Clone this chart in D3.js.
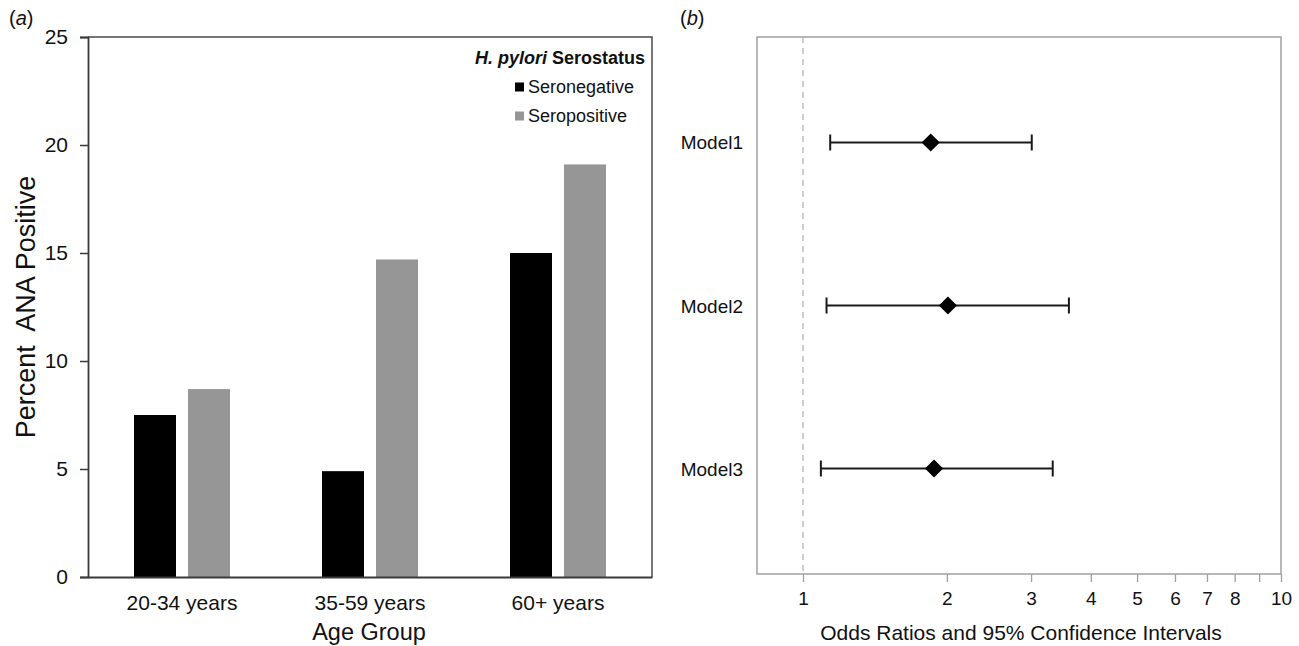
<!DOCTYPE html>
<html><head><meta charset="utf-8">
<script src="https://cdn.jsdelivr.net/npm/d3@7"></script>
<style>body{margin:0;background:#fff;} svg{display:block;font-family:"Liberation Sans",Arial,sans-serif;}</style>
</head><body>
<svg id="c" width="1299" height="646"></svg>
<script>
// Panel (a) data
const ageGroups = ["20-34 years", "35-59 years", "60+ years"];
const seriesNames = ["Seronegative", "Seropositive"];
const seronegative = [7.5, 4.9, 15.0];
const seropositive = [8.7, 14.7, 19.1];
const yTicksA = [0, 5, 10, 15, 20, 25];
// Panel (b) data
const models = ["Model1", "Model2", "Model3"];
const orEstimate = [1.85, 2.01, 1.88];
const orLower = [1.14, 1.12, 1.09];
const orUpper = [3.01, 3.60, 3.33];
const xTicksB = [1, 2, 3, 4, 5, 6, 7, 8, 9, 10];
const xTickLabelsB = ["1", "2", "3", "4", "5", "6", "7", "8", "", "10"];

const svg = d3.select("#c");
const FF = "Liberation Sans, Arial, sans-serif";
const colors = {Seronegative: "#000000", Seropositive: "#969696"};

// ---------- Panel (a) ----------
const A = {l: 88, r: 652, t: 37, b: 577};
const x0 = d3.scaleBand().domain(ageGroups).range([A.l, A.r]);
const y = d3.scaleLinear().domain([0, 25]).range([A.b, A.t]);
const barW = 42, gap = 12;

const gA = svg.append("g");
const data = ageGroups.map((g, i) => ({g, vals: [{s: "Seronegative", v: seronegative[i]}, {s: "Seropositive", v: seropositive[i]}]}));
const off = (x0.bandwidth() - (barW * 2 + gap)) / 2;
gA.selectAll("g.grp").data(data).join("g")
  .attr("transform", d => `translate(${x0(d.g) + off},0)`)
  .selectAll("rect").data(d => d.vals).join("rect")
  .attr("x", (d, i) => i * (barW + gap))
  .attr("width", barW)
  .attr("y", d => y(d.v))
  .attr("height", d => y(0) - y(d.v))
  .attr("fill", d => colors[d.s]);

gA.append("path").attr("d", `M${A.l},${A.t}H${A.r}V${A.b}`).attr("fill", "none").attr("stroke", "#4a4a4a").attr("stroke-width", 1.5);

const yAx = gA.append("g").attr("transform", `translate(${A.l},0)`)
  .call(d3.axisLeft(y).tickValues(yTicksA).tickSize(8).tickPadding(12));
yAx.select(".domain").attr("stroke", "#3a3a3a").attr("stroke-width", 1.8);
yAx.selectAll(".tick line").attr("stroke", "#3a3a3a").attr("stroke-width", 1.5);
yAx.selectAll("text").attr("font-size", 21).attr("fill", "#111").style("font-family", FF);

const xAx = gA.append("g").attr("transform", `translate(0,${A.b})`)
  .call(d3.axisBottom(x0).tickSize(0).tickPadding(18));
xAx.select(".domain").attr("stroke", "#3a3a3a").attr("stroke-width", 1.8);
xAx.selectAll("text").attr("font-size", 21).attr("fill", "#111").style("font-family", FF);

gA.append("text").attr("x", 369).attr("y", 640).attr("text-anchor", "middle")
  .attr("font-size", 23.5).attr("fill", "#111").text("Age Group");
gA.append("text").attr("transform", `translate(35,${(A.t + A.b) / 2}) rotate(-90)`).attr("text-anchor", "middle")
  .attr("font-size", 27).attr("fill", "#111").style("white-space", "pre").text("Percent  ANA Positive");

// legend
const lt = gA.append("text").attr("x", 645).attr("y", 64).attr("text-anchor", "end").attr("font-size", 18).attr("font-weight", "bold").attr("fill", "#111");
lt.append("tspan").attr("font-style", "italic").text("H. pylori");
lt.append("tspan").text(" Serostatus");
seriesNames.forEach((s, i) => {
  const cy = 87 + i * 29;
  gA.append("rect").attr("x", 515).attr("y", cy - 4.5).attr("width", 9).attr("height", 9).attr("fill", colors[s]);
  gA.append("text").attr("x", 528).attr("y", cy + 6).attr("font-size", 18).attr("fill", "#111").text(s);
});

svg.append("text").attr("x", 9).attr("y", 25).attr("font-size", 20).attr("fill", "#111")
  .html('(<tspan font-style="italic">a</tspan>)');

// ---------- Panel (b) ----------
const B = {l: 757, r: 1281, t: 37, b: 574};
const xb = d3.scaleLog().domain([1, 10]).range([803, 1281]);
const yb = d3.scalePoint().domain(models).range([B.t, B.b]).padding(0.647);
const gB = svg.append("g");

gB.append("rect").attr("x", B.l).attr("y", B.t).attr("width", B.r - B.l).attr("height", B.b - B.t)
  .attr("fill", "none").attr("stroke", "#a0a0a0").attr("stroke-width", 1.5);
gB.append("line").attr("x1", xb(1)).attr("x2", xb(1)).attr("y1", B.t).attr("y2", B.b)
  .attr("stroke", "#b5b5b5").attr("stroke-width", 1.3).attr("stroke-dasharray", "6,5");

const xbAx = gB.append("g").attr("transform", `translate(0,${B.b})`)
  .call(d3.axisBottom(xb).tickValues(xTicksB).tickFormat((d, i) => xTickLabelsB[i]).tickSize(8).tickPadding(10));
xbAx.select(".domain").remove();
xbAx.selectAll(".tick line").attr("stroke", "#a0a0a0").attr("stroke-width", 1.3);
xbAx.selectAll("text").attr("font-size", 19).attr("fill", "#111").style("font-family", FF);

gB.append("text").attr("x", 1021).attr("y", 640).attr("text-anchor", "middle").attr("font-size", 21).attr("fill", "#111")
  .text("Odds Ratios and 95% Confidence Intervals");

const rows = models.map((m, i) => ({m, est: orEstimate[i], lo: orLower[i], hi: orUpper[i]}));
const rg = gB.selectAll("g.row").data(rows).join("g").attr("transform", d => `translate(0,${yb(d.m)})`);
rg.append("line").attr("x1", d => xb(d.lo)).attr("x2", d => xb(d.hi)).attr("stroke", "#1a1a1a").attr("stroke-width", 2);
rg.append("line").attr("x1", d => xb(d.lo)).attr("x2", d => xb(d.lo)).attr("y1", -8).attr("y2", 8).attr("stroke", "#1a1a1a").attr("stroke-width", 2);
rg.append("line").attr("x1", d => xb(d.hi)).attr("x2", d => xb(d.hi)).attr("y1", -8).attr("y2", 8).attr("stroke", "#1a1a1a").attr("stroke-width", 2);
rg.append("path").attr("d", d3.symbol(d3.symbolSquare, 165)).attr("transform", d => `translate(${xb(d.est)},0) rotate(45)`).attr("fill", "#000");
rg.append("text").attr("x", 743).attr("y", 7).attr("text-anchor", "end").attr("font-size", 19).attr("fill", "#111").text(d => d.m);

svg.append("text").attr("x", 680).attr("y", 25).attr("font-size", 20).attr("fill", "#111")
  .html('(<tspan font-style="italic">b</tspan>)');
</script>
</body></html>
